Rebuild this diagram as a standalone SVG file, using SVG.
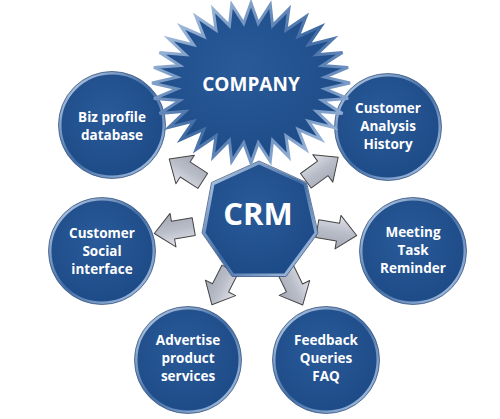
<svg xmlns="http://www.w3.org/2000/svg" width="500" height="419" viewBox="0 0 500 419">
<defs>
<radialGradient id="blue" cx="45%" cy="40%" r="65%">
<stop offset="0" stop-color="#2a5a99"/>
<stop offset="1" stop-color="#1c4a86"/>
</radialGradient>
<linearGradient id="ring" x1="0" y1="0" x2="1" y2="1">
<stop offset="0" stop-color="#c5d8ef"/>
<stop offset="0.5" stop-color="#3f6aa3"/>
<stop offset="1" stop-color="#b8cfec"/>
</linearGradient>
<linearGradient id="gray" x1="0" y1="0" x2="0" y2="1">
<stop offset="0" stop-color="#e2e4ea"/>
<stop offset="0.5" stop-color="#b9bdc8"/>
<stop offset="1" stop-color="#a3a8b4"/>
</linearGradient>
<polygon id="arrow" points="-20,-9 1,-9 1,-17 20,0 1,17 1,9 -20,9"/>
</defs>
<style>
.node{fill:url(#blue);stroke:url(#ring);stroke-width:3}
.edge{fill:none;stroke:#3a5580;stroke-width:0.8}
.arr{fill:url(#gray);stroke:#444;stroke-width:1;stroke-linejoin:round}
.t{font-family:"Open Sans","Noto Sans",sans-serif;font-weight:700;fill:#ffffff;text-anchor:middle}
.s{font-size:13.5px}
</style>
<rect width="500" height="419" fill="#ffffff"/>
<g id="connectors">
<use href="#arrow" class="arr" transform="translate(186,170) rotate(213)"/>
<use href="#arrow" class="arr" transform="translate(322,169) rotate(-36)"/>
<use href="#arrow" class="arr" transform="translate(174,230) rotate(170)"/>
<use href="#arrow" class="arr" transform="translate(337,232) rotate(10)"/>
<use href="#arrow" class="arr" transform="translate(221,287) rotate(117)"/>
<use href="#arrow" class="arr" transform="translate(294,287) rotate(64)"/>
</g>
<g id="biz">
<circle cx="112" cy="125" r="52" class="node"/>
<circle cx="112" cy="125" r="53.5" class="edge"/>
<text class="t s" x="112" y="122">Biz profile</text>
<text class="t s" x="112" y="140">database</text>
</g>
<g id="analysis">
<circle cx="388" cy="127" r="52" class="node"/>
<circle cx="388" cy="127" r="53.5" class="edge"/>
<text class="t s" x="388" y="113">Customer</text>
<text class="t s" x="388" y="131">Analysis</text>
<text class="t s" x="388" y="149">History</text>
</g>
<g id="social">
<circle cx="102" cy="251" r="52" class="node"/>
<circle cx="102" cy="251" r="53.5" class="edge"/>
<text class="t s" x="102" y="238">Customer</text>
<text class="t s" x="102" y="256">Social</text>
<text class="t s" x="102" y="274">interface</text>
</g>
<g id="meeting">
<circle cx="413" cy="251" r="52" class="node"/>
<circle cx="413" cy="251" r="53.5" class="edge"/>
<text class="t s" x="413" y="237">Meeting</text>
<text class="t s" x="413" y="255">Task</text>
<text class="t s" x="413" y="273">Reminder</text>
</g>
<g id="advertise">
<circle cx="188" cy="360" r="52" class="node"/>
<circle cx="188" cy="360" r="53.5" class="edge"/>
<text class="t s" x="188" y="345">Advertise</text>
<text class="t s" x="188" y="363">product</text>
<text class="t s" x="188" y="381">services</text>
</g>
<g id="feedback">
<circle cx="326" cy="360" r="52" class="node"/>
<circle cx="326" cy="360" r="53.5" class="edge"/>
<text class="t s" x="326" y="345">Feedback</text>
<text class="t s" x="326" y="363">Queries</text>
<text class="t s" x="326" y="381">FAQ</text>
</g>
<g id="crm">
<polygon class="node" points="259,163 305,184 316,233 285,275 233,275 204,233 213,184"/>
<polygon class="edge" points="259,161 306.5,182.5 318,233 286,276.5 232,276.5 202,233 211.5,182.5"/>
<text class="t" x="258" y="225" font-size="31">CRM</text>
</g>
<g id="company">
<polygon class="node" vector-effect="non-scaling-stroke" transform="translate(251,83) scale(0.99,0.8)" points="0,-100 7.35,-74.64 19.51,-98.08 21.77,-71.77 38.27,-92.39 35.36,-66.14 55.56,-83.15 47.58,-57.98 70.71,-70.71 57.98,-47.58 83.15,-55.56 66.14,-35.36 92.39,-38.27 71.77,-21.77 98.08,-19.51 74.64,-7.35 100,0 74.64,7.35 98.08,19.51 71.77,21.77 92.39,38.27 66.14,35.36 83.15,55.56 57.98,47.58 70.71,70.71 47.58,57.98 55.56,83.15 35.36,66.14 38.27,92.39 21.77,71.77 19.51,98.08 7.35,74.64 0,100 -7.35,74.64 -19.51,98.08 -21.77,71.77 -38.27,92.39 -35.36,66.14 -55.56,83.15 -47.58,57.98 -70.71,70.71 -57.98,47.58 -83.15,55.56 -66.14,35.36 -92.39,38.27 -71.77,21.77 -98.08,19.51 -74.64,7.35 -100,0 -74.64,-7.35 -98.08,-19.51 -71.77,-21.77 -92.39,-38.27 -66.14,-35.36 -83.15,-55.56 -57.98,-47.58 -70.71,-70.71 -47.58,-57.98 -55.56,-83.15 -35.36,-66.14 -38.27,-92.39 -21.77,-71.77 -19.51,-98.08 -7.35,-74.64"/>
<text class="t" x="251" y="91" font-size="19">COMPANY</text>
</g>
</svg>
